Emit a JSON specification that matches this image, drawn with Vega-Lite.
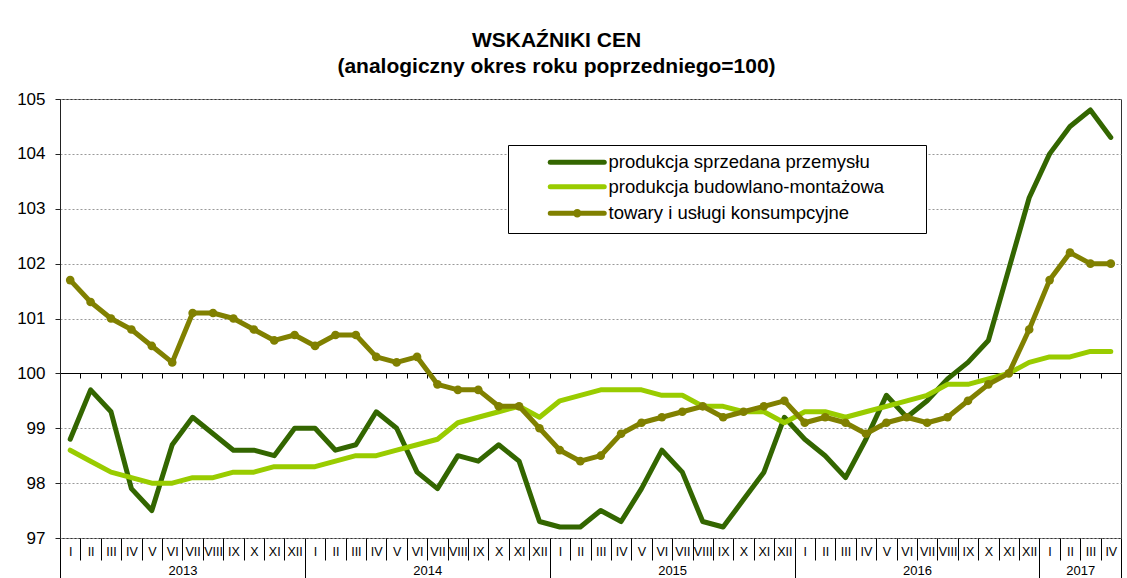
{
  "$schema": "https://vega.github.io/schema/vega-lite/v6.json",
  "autosize": {"type": "none"},
  "padding": {"left": 60, "top": 99, "right": 6, "bottom": 40},
  "width": 1061,
  "height": 439,
  "background": "white",
  "config": {
    "font": "Liberation Sans",
    "view": {"stroke": "#333333", "strokeWidth": 1}
  },
  "title": {
    "text": ["WSKAŹNIKI CEN", "(analogiczny okres roku poprzedniego=100)"],
    "font": "Liberation Sans",
    "fontSize": 21,
    "fontWeight": "bold",
    "color": "black",
    "anchor": "middle",
    "dx": -34,
    "offset": 13,
    "lineHeight": 26
  },
  "data": {
    "values": [
      {"i":0,"produkcja sprzedana przemysłu":98.8,"produkcja budowlano-montażowa":98.6,"towary i usługi konsumpcyjne":101.7},
      {"i":1,"produkcja sprzedana przemysłu":99.7,"produkcja budowlano-montażowa":98.4,"towary i usługi konsumpcyjne":101.3},
      {"i":2,"produkcja sprzedana przemysłu":99.3,"produkcja budowlano-montażowa":98.2,"towary i usługi konsumpcyjne":101.0},
      {"i":3,"produkcja sprzedana przemysłu":97.9,"produkcja budowlano-montażowa":98.1,"towary i usługi konsumpcyjne":100.8},
      {"i":4,"produkcja sprzedana przemysłu":97.5,"produkcja budowlano-montażowa":98.0,"towary i usługi konsumpcyjne":100.5},
      {"i":5,"produkcja sprzedana przemysłu":98.7,"produkcja budowlano-montażowa":98.0,"towary i usługi konsumpcyjne":100.2},
      {"i":6,"produkcja sprzedana przemysłu":99.2,"produkcja budowlano-montażowa":98.1,"towary i usługi konsumpcyjne":101.1},
      {"i":7,"produkcja sprzedana przemysłu":98.9,"produkcja budowlano-montażowa":98.1,"towary i usługi konsumpcyjne":101.1},
      {"i":8,"produkcja sprzedana przemysłu":98.6,"produkcja budowlano-montażowa":98.2,"towary i usługi konsumpcyjne":101.0},
      {"i":9,"produkcja sprzedana przemysłu":98.6,"produkcja budowlano-montażowa":98.2,"towary i usługi konsumpcyjne":100.8},
      {"i":10,"produkcja sprzedana przemysłu":98.5,"produkcja budowlano-montażowa":98.3,"towary i usługi konsumpcyjne":100.6},
      {"i":11,"produkcja sprzedana przemysłu":99.0,"produkcja budowlano-montażowa":98.3,"towary i usługi konsumpcyjne":100.7},
      {"i":12,"produkcja sprzedana przemysłu":99.0,"produkcja budowlano-montażowa":98.3,"towary i usługi konsumpcyjne":100.5},
      {"i":13,"produkcja sprzedana przemysłu":98.6,"produkcja budowlano-montażowa":98.4,"towary i usługi konsumpcyjne":100.7},
      {"i":14,"produkcja sprzedana przemysłu":98.7,"produkcja budowlano-montażowa":98.5,"towary i usługi konsumpcyjne":100.7},
      {"i":15,"produkcja sprzedana przemysłu":99.3,"produkcja budowlano-montażowa":98.5,"towary i usługi konsumpcyjne":100.3},
      {"i":16,"produkcja sprzedana przemysłu":99.0,"produkcja budowlano-montażowa":98.6,"towary i usługi konsumpcyjne":100.2},
      {"i":17,"produkcja sprzedana przemysłu":98.2,"produkcja budowlano-montażowa":98.7,"towary i usługi konsumpcyjne":100.3},
      {"i":18,"produkcja sprzedana przemysłu":97.9,"produkcja budowlano-montażowa":98.8,"towary i usługi konsumpcyjne":99.8},
      {"i":19,"produkcja sprzedana przemysłu":98.5,"produkcja budowlano-montażowa":99.1,"towary i usługi konsumpcyjne":99.7},
      {"i":20,"produkcja sprzedana przemysłu":98.4,"produkcja budowlano-montażowa":99.2,"towary i usługi konsumpcyjne":99.7},
      {"i":21,"produkcja sprzedana przemysłu":98.7,"produkcja budowlano-montażowa":99.3,"towary i usługi konsumpcyjne":99.4},
      {"i":22,"produkcja sprzedana przemysłu":98.4,"produkcja budowlano-montażowa":99.4,"towary i usługi konsumpcyjne":99.4},
      {"i":23,"produkcja sprzedana przemysłu":97.3,"produkcja budowlano-montażowa":99.2,"towary i usługi konsumpcyjne":99.0},
      {"i":24,"produkcja sprzedana przemysłu":97.2,"produkcja budowlano-montażowa":99.5,"towary i usługi konsumpcyjne":98.6},
      {"i":25,"produkcja sprzedana przemysłu":97.2,"produkcja budowlano-montażowa":99.6,"towary i usługi konsumpcyjne":98.4},
      {"i":26,"produkcja sprzedana przemysłu":97.5,"produkcja budowlano-montażowa":99.7,"towary i usługi konsumpcyjne":98.5},
      {"i":27,"produkcja sprzedana przemysłu":97.3,"produkcja budowlano-montażowa":99.7,"towary i usługi konsumpcyjne":98.9},
      {"i":28,"produkcja sprzedana przemysłu":97.9,"produkcja budowlano-montażowa":99.7,"towary i usługi konsumpcyjne":99.1},
      {"i":29,"produkcja sprzedana przemysłu":98.6,"produkcja budowlano-montażowa":99.6,"towary i usługi konsumpcyjne":99.2},
      {"i":30,"produkcja sprzedana przemysłu":98.2,"produkcja budowlano-montażowa":99.6,"towary i usługi konsumpcyjne":99.3},
      {"i":31,"produkcja sprzedana przemysłu":97.3,"produkcja budowlano-montażowa":99.4,"towary i usługi konsumpcyjne":99.4},
      {"i":32,"produkcja sprzedana przemysłu":97.2,"produkcja budowlano-montażowa":99.4,"towary i usługi konsumpcyjne":99.2},
      {"i":33,"produkcja sprzedana przemysłu":97.7,"produkcja budowlano-montażowa":99.3,"towary i usługi konsumpcyjne":99.3},
      {"i":34,"produkcja sprzedana przemysłu":98.2,"produkcja budowlano-montażowa":99.3,"towary i usługi konsumpcyjne":99.4},
      {"i":35,"produkcja sprzedana przemysłu":99.2,"produkcja budowlano-montażowa":99.1,"towary i usługi konsumpcyjne":99.5},
      {"i":36,"produkcja sprzedana przemysłu":98.8,"produkcja budowlano-montażowa":99.3,"towary i usługi konsumpcyjne":99.1},
      {"i":37,"produkcja sprzedana przemysłu":98.5,"produkcja budowlano-montażowa":99.3,"towary i usługi konsumpcyjne":99.2},
      {"i":38,"produkcja sprzedana przemysłu":98.1,"produkcja budowlano-montażowa":99.2,"towary i usługi konsumpcyjne":99.1},
      {"i":39,"produkcja sprzedana przemysłu":98.8,"produkcja budowlano-montażowa":99.3,"towary i usługi konsumpcyjne":98.9},
      {"i":40,"produkcja sprzedana przemysłu":99.6,"produkcja budowlano-montażowa":99.4,"towary i usługi konsumpcyjne":99.1},
      {"i":41,"produkcja sprzedana przemysłu":99.2,"produkcja budowlano-montażowa":99.5,"towary i usługi konsumpcyjne":99.2},
      {"i":42,"produkcja sprzedana przemysłu":99.5,"produkcja budowlano-montażowa":99.6,"towary i usługi konsumpcyjne":99.1},
      {"i":43,"produkcja sprzedana przemysłu":99.9,"produkcja budowlano-montażowa":99.8,"towary i usługi konsumpcyjne":99.2},
      {"i":44,"produkcja sprzedana przemysłu":100.2,"produkcja budowlano-montażowa":99.8,"towary i usługi konsumpcyjne":99.5},
      {"i":45,"produkcja sprzedana przemysłu":100.6,"produkcja budowlano-montażowa":99.9,"towary i usługi konsumpcyjne":99.8},
      {"i":46,"produkcja sprzedana przemysłu":101.9,"produkcja budowlano-montażowa":100.0,"towary i usługi konsumpcyjne":100.0},
      {"i":47,"produkcja sprzedana przemysłu":103.2,"produkcja budowlano-montażowa":100.2,"towary i usługi konsumpcyjne":100.8},
      {"i":48,"produkcja sprzedana przemysłu":104.0,"produkcja budowlano-montażowa":100.3,"towary i usługi konsumpcyjne":101.7},
      {"i":49,"produkcja sprzedana przemysłu":104.5,"produkcja budowlano-montażowa":100.3,"towary i usługi konsumpcyjne":102.2},
      {"i":50,"produkcja sprzedana przemysłu":104.8,"produkcja budowlano-montażowa":100.4,"towary i usługi konsumpcyjne":102.0},
      {"i":51,"produkcja sprzedana przemysłu":104.3,"produkcja budowlano-montażowa":100.4,"towary i usługi konsumpcyjne":102.0}
    ]
  },
  "transform": [
    {"fold": ["produkcja sprzedana przemysłu", "produkcja budowlano-montażowa", "towary i usługi konsumpcyjne"], "as": ["s", "v"]}
  ],
  "encoding": {
    "x": {"field": "i", "type": "quantitative", "scale": {"domain": [-0.5, 51.5], "nice": false, "zero": false}},
    "y": {
      "field": "v", "type": "quantitative",
      "scale": {"domain": [97, 105], "nice": false, "zero": false},
      "axis": {
        "title": null, "values": [97, 98, 99, 100, 101, 102, 103, 104, 105],
        "labelFont": "Liberation Sans", "labelFontSize": 17, "labelColor": "black",
        "labelPadding": 10, "tickSize": 5, "tickColor": "#222", "domainColor": "#222",
        "grid": true, "gridColor": "#999999", "gridDash": [2, 2], "gridWidth": 1
      }
    }
  },
  "layer": [
    {
      "mark": {"type": "line", "strokeWidth": 5, "strokeCap": "round", "strokeJoin": "round"},
      "encoding": {
        "x": {"field": "i", "type": "quantitative", "axis": {
          "orient": "bottom",
          "title": null, "values": [0,1,2,3,4,5,6,7,8,9,10,11,12,13,14,15,16,17,18,19,20,21,22,23,24,25,26,27,28,29,30,31,32,33,34,35,36,37,38,39,40,41,42,43,44,45,46,47,48,49,50,51],
          "labelExpr": "['I','II','III','IV','V','VI','VII','VIII','IX','X','XI','XII'][datum.value % 12]",
          "ticks": false, "domain": false, "grid": false,
          "labelFont": "Liberation Sans", "labelFontSize": 12.5, "labelColor": "black",
          "labelBaseline": "middle", "labelPadding": 13, "labelFlush": false, "labelOverlap": false, "labelBound": false
        }},
        "color": {
          "field": "s", "type": "nominal",
          "scale": {
            "domain": ["produkcja sprzedana przemysłu", "produkcja budowlano-montażowa", "towary i usługi konsumpcyjne"],
            "range": ["#336600", "#99cc00", "#808000"]
          },
          "legend": {
            "title": "\u00a0", "titleOrient": "right", "titlePadding": 34, "titleFontSize": 18,
            "orient": "none", "legendX": 448, "legendY": 46,
            "strokeColor": "black", "fillColor": "white", "padding": 8,
            "labelFont": "Liberation Sans", "labelFontSize": 18.5, "labelColor": "black", "labelLimit": 500,
            "symbolSize": 100, "symbolOffset": 52, "labelOffset": 22, "rowPadding": 3.5,
            "symbolStrokeWidth": 5,
            "encode": {
              "symbols": {
                "update": {
                  "shape": {"signal": "datum.value == 'towary i usługi konsumpcyjne' ? 'M-5.4,0H5.4M-0.35,0A0.35,0.35,0,1,1,0.35,0A0.35,0.35,0,1,1,-0.35,0Z' : 'M-5.4,0H5.4'"},
                  "fill": {"scale": "color", "field": "value"},
                  "stroke": {"scale": "color", "field": "value"},
                  "strokeWidth": {"value": 5},
                  "strokeCap": {"value": "round"},
                  "opacity": {"value": 1}
                }
              }
            }
          }
        }
      }
    },
    {
      "transform": [{"filter": "datum.s == 'towary i usługi konsumpcyjne'"}],
      "mark": {"type": "point", "shape": "circle", "filled": true, "size": 75, "opacity": 1, "color": "#808000"},
      "encoding": {
        "x": {"field": "i", "type": "quantitative", "axis": {
          "orient": "bottom",
          "title": null, "values": [0.5,1.5,2.5,3.5,4.5,5.5,6.5,7.5,8.5,9.5,10.5,12.5,13.5,14.5,15.5,16.5,17.5,18.5,19.5,20.5,21.5,22.5,24.5,25.5,26.5,27.5,28.5,29.5,30.5,31.5,32.5,33.5,34.5,36.5,37.5,38.5,39.5,40.5,41.5,42.5,43.5,44.5,45.5,46.5,48.5,49.5,50.5],
          "labels": false, "domain": false, "grid": false, "tickSize": 22, "tickColor": "black", "tickWidth": 1
        }}
      }
    },
    {
      "transform": [{"filter": "datum.s == 'produkcja sprzedana przemysłu'"}],
      "mark": {"type": "point", "opacity": 0},
      "encoding": {
        "x": {"field": "i", "type": "quantitative", "axis": {
          "orient": "bottom",
          "title": null, "values": [-0.5, 11.5, 23.5, 35.5, 47.5, 51.5],
          "labels": false, "domain": false, "grid": false, "tickSize": 45, "tickColor": "black", "tickWidth": 1
        }}
      }
    },
    {
      "transform": [{"filter": "datum.s == 'produkcja sprzedana przemysłu'"}],
      "mark": {"type": "point", "opacity": 0},
      "encoding": {
        "x": {"field": "i", "type": "quantitative", "axis": {
          "orient": "bottom",
          "title": null, "values": [5.5, 17.5, 29.5, 41.5, 49.5],
          "labelExpr": "toString(2013 + floor((datum.value + 0.5) / 12))",
          "ticks": false, "domain": false, "grid": false,
          "labelFont": "Liberation Sans", "labelFontSize": 13, "labelColor": "black",
          "labelBaseline": "middle", "labelPadding": 32, "labelFlush": false, "labelOverlap": false
        }}
      }
    },
    {
      "transform": [{"filter": "datum.s == 'produkcja budowlano-montażowa'"}],
      "mark": {"type": "point", "opacity": 0},
      "encoding": {
        "x": {"field": "i", "type": "quantitative", "axis": {
          "orient": "bottom",
          "title": null, "values": [0.5,1.5,2.5,3.5,4.5,5.5,6.5,7.5,8.5,9.5,10.5,11.5,12.5,13.5,14.5,15.5,16.5,17.5,18.5,19.5,20.5,21.5,22.5,23.5,24.5,25.5,26.5,27.5,28.5,29.5,30.5,31.5,32.5,33.5,34.5,35.5,36.5,37.5,38.5,39.5,40.5,41.5,42.5,43.5,44.5,45.5,46.5,47.5,48.5,49.5,50.5],
          "offset": -165, "labels": false, "grid": false, "tickSize": 5,
          "tickColor": "black", "domainColor": "black", "domainWidth": 1.2
        }}
      }
    }
  ],
  "resolve": {"axis": {"x": "independent"}}
}
